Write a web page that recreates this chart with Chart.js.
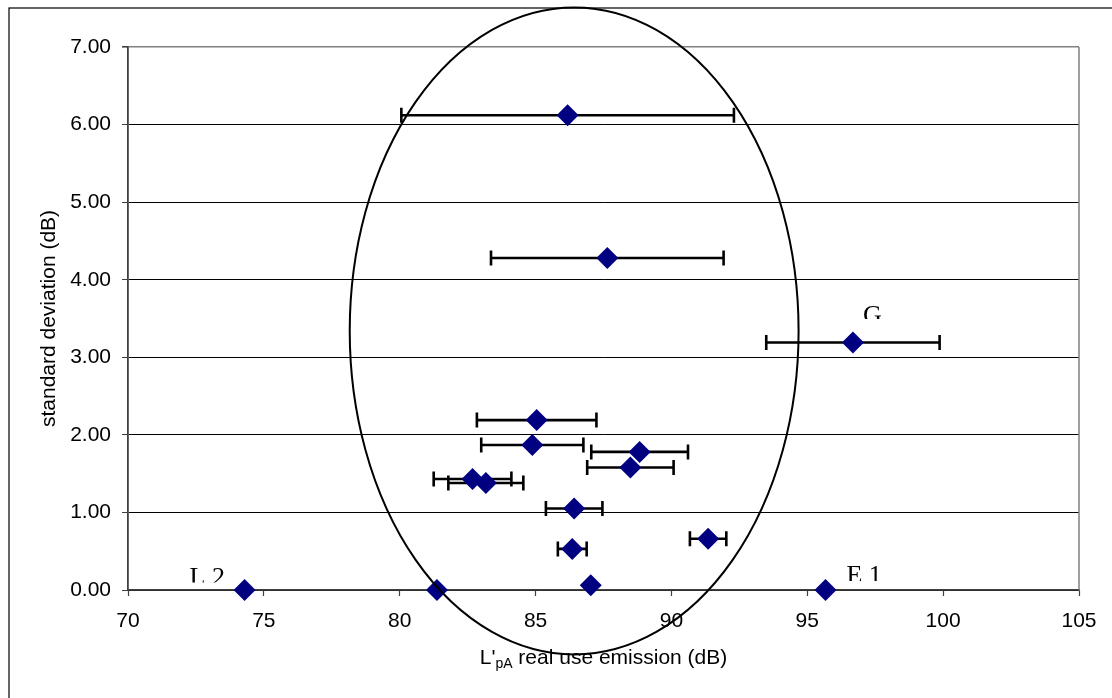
<!DOCTYPE html>
<html>
<head>
<meta charset="utf-8">
<script src="https://cdn.jsdelivr.net/npm/chart.js@4.4.1/dist/chart.umd.min.js"></script>
<style>
  html, body { margin: 0; padding: 0; background: #fff; }
  #wrap { width: 1112px; height: 698px; }
</style>
</head>
<body>
<div id="wrap"><canvas id="chart" width="1112" height="698"></canvas></div>
<script>
// L'pA real use emission (dB), mean per product
const emission = [86.18, 87.64, 96.68, 85.04, 84.88, 88.83, 88.49, 82.68, 83.17, 86.42, 91.35, 86.35, 87.03, 81.37, 74.29, 95.67];
// standard deviation (dB)
const stdDev   = [6.12, 4.28, 3.19, 2.19, 1.87, 1.78, 1.58, 1.43, 1.38, 1.05, 0.66, 0.53, 0.06, 0.00, 0.00, 0.00];
// horizontal error bar, ± (dB)
const errX     = [6.12, 4.28, 3.19, 2.20, 1.88, 1.78, 1.59, 1.43, 1.38, 1.04, 0.67, 0.53, 0.06, 0.00, 0.00, 0.00];

const xTicks = [70, 75, 80, 85, 90, 95, 100, 105];
const yTicks = [0, 1, 2, 3, 4, 5, 6, 7];

// names written next to some points (index into the arrays above)
const pointNames = [
  { i: 2,  text: 'G' },
  { i: 15, text: 'E 1' },
  { i: 14, text: 'L 2' },
];
// where the name sits, relative to its point (px)
const nameOffsets = { 'G': [10, -20, 3.5], 'E 1': [21, -7, 2], 'L 2': [-55, -5.5, 2] };

// ring drawn round the main group, in data units
const ring = { cx: 86.42, cy: 3.34, rx: 8.26, ry: 4.17 };

const FONT = '"Liberation Sans", Arial, sans-serif';
Chart.defaults.font.family = FONT;
Chart.defaults.font.size = 21;
Chart.defaults.color = '#000';

const decor = {
  id: 'decor',
  beforeDraw(chart) {
    const { ctx } = chart;
    ctx.save();
    ctx.fillStyle = '#fff';
    ctx.fillRect(0, 0, chart.width, chart.height);
    ctx.strokeStyle = '#000';
    ctx.lineWidth = 1.2;
    ctx.strokeRect(9, 8, chart.width + 20, chart.height + 20);
    ctx.restore();
  },
  beforeDatasetsDraw(chart) {
    const { ctx, scales: { x, y } } = chart;
    ctx.save();
    ctx.strokeStyle = '#000';
    ctx.lineWidth = 2.6;
    emission.forEach((v, i) => {
      if (!errX[i]) return;
      const py = y.getPixelForValue(stdDev[i]);
      const x0 = x.getPixelForValue(v - errX[i]);
      const x1 = x.getPixelForValue(v + errX[i]);
      ctx.beginPath();
      ctx.moveTo(x0, py); ctx.lineTo(x1, py);
      ctx.moveTo(x0, py - 7.5); ctx.lineTo(x0, py + 7.5);
      ctx.moveTo(x1, py - 7.5); ctx.lineTo(x1, py + 7.5);
      ctx.stroke();
    });
    ctx.restore();
  },
  afterDatasetsDraw(chart) {
    const { ctx, chartArea: a, scales: { x, y } } = chart;
    ctx.save();
    // plot frame, right side
    ctx.strokeStyle = '#808080';
    ctx.lineWidth = 1.5;
    ctx.beginPath();
    ctx.moveTo(a.right, a.top); ctx.lineTo(a.right, a.bottom);
    ctx.stroke();

    // ellipse
    const cx = x.getPixelForValue(ring.cx);
    const cy = y.getPixelForValue(ring.cy);
    const rx = Math.abs(x.getPixelForValue(ring.cx + ring.rx) - cx);
    const ry = Math.abs(y.getPixelForValue(ring.cy + ring.ry) - cy);
    ctx.strokeStyle = '#000';
    ctx.lineWidth = 2;
    ctx.beginPath();
    ctx.ellipse(cx, cy, rx, ry, 0, 0, Math.PI * 2);
    ctx.stroke();

    // point names, bottom of the glyphs hidden as in the original
    ctx.font = '26px "Liberation Serif", "Times New Roman", serif';
    ctx.fillStyle = '#000';
    ctx.textBaseline = 'alphabetic';
    pointNames.forEach(n => {
      const [dx, dy, cut] = nameOffsets[n.text];
      const px = x.getPixelForValue(emission[n.i]) + dx;
      const py = y.getPixelForValue(stdDev[n.i]) + dy;
      ctx.save();
      ctx.beginPath();
      ctx.rect(0, 0, chart.width, py - cut);
      ctx.clip();
      ctx.fillText(n.text, px, py);
      ctx.restore();
    });
    ctx.restore();
  },
  afterDraw(chart) {
    // x axis title with subscript
    const { ctx, chartArea: a } = chart;
    const big = '21px ' + FONT;
    const small = '14px ' + FONT;
    const parts = [
      { t: "L'", f: big, dy: 0 },
      { t: 'pA', f: small, dy: 4 },
      { t: ' real use emission (dB)', f: big, dy: 0 },
    ];
    ctx.save();
    ctx.fillStyle = '#000';
    ctx.textBaseline = 'alphabetic';
    let w = 0;
    parts.forEach(p => { ctx.font = p.f; p.w = ctx.measureText(p.t).width; w += p.w; });
    let px = (a.left + a.right) / 2 - w / 2;
    const base = 664;
    parts.forEach(p => { ctx.font = p.f; ctx.fillText(p.t, px, base + p.dy); px += p.w; });
    ctx.restore();
  },
};

new Chart(document.getElementById('chart'), {
  type: 'scatter',
  data: {
    datasets: [{
      data: emission.map((v, i) => ({ x: v, y: stdDev[i] })),
      pointStyle: 'rectRot',
      pointRadius: 11,
      pointHoverRadius: 11,
      backgroundColor: '#000080',
      borderColor: '#000080',
      borderWidth: 0,
      clip: false,
    }],
  },
  options: {
    responsive: false,
    animation: false,
    events: [],
    layout: { padding: { left: 0, top: 47, right: 33, bottom: 0 } },
    plugins: { legend: { display: false }, tooltip: { enabled: false } },
    scales: {
      x: {
        type: 'linear',
        min: 70,
        max: 105,
        afterBuildTicks: s => { s.ticks = xTicks.map(v => ({ value: v })); },
        afterFit: s => { s.height = 108; },
        grid: { drawOnChartArea: false, drawTicks: true, tickLength: 6, tickColor: '#404040', tickWidth: 1.2 },
        border: { color: '#404040', width: 1.8 },
        ticks: { padding: 13, maxRotation: 0, callback: v => v },
      },
      y: {
        type: 'linear',
        min: 0,
        max: 7,
        afterBuildTicks: s => { s.ticks = yTicks.map(v => ({ value: v })); },
        afterFit: s => { s.width = 128; },
        grid: {
          color: c => (c.tick && c.tick.value === 7 ? '#808080' : '#000'),
          lineWidth: c => (c.tick && c.tick.value === 7 ? 1.6 : 1),
          tickColor: '#404040',
          tickLength: 6,
        },
        border: { color: '#404040', width: 1.8 },
        ticks: { padding: 11, callback: v => v.toFixed(2) },
        title: { display: true, text: 'standard deviation (dB)', padding: { top: 37, bottom: 0 } },
      },
    },
  },
  plugins: [decor],
});
</script>
</body>
</html>
